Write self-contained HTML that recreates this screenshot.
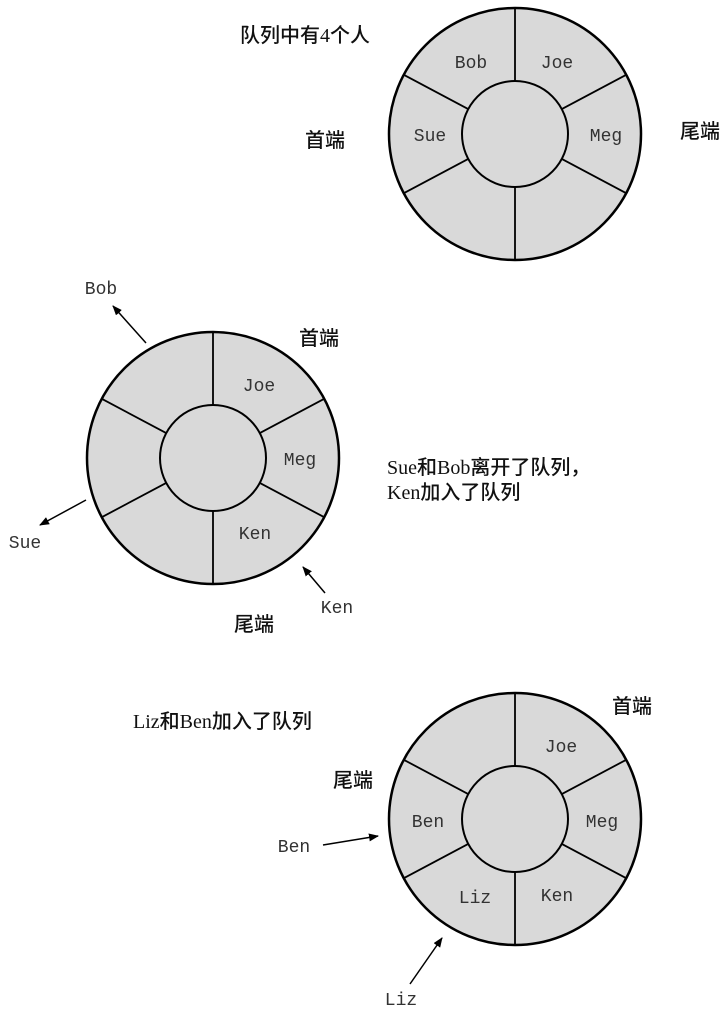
<!DOCTYPE html>
<html><head><meta charset="utf-8"><style>
html,body{margin:0;padding:0;background:#fff;}
svg{display:block}
.cn{font-family:"Liberation Serif","Noto Sans CJK SC",serif;font-size:20px;fill:#111;font-weight:500}
.m{font-family:"Liberation Mono",monospace;font-size:18px;fill:#333;text-anchor:middle}
</style></head><body>
<svg width="728" height="1014" viewBox="0 0 728 1014" xmlns="http://www.w3.org/2000/svg">
<defs>
<marker id="a" markerWidth="10" markerHeight="8" refX="9" refY="4" orient="auto" markerUnits="userSpaceOnUse">
<path d="M0,0 L10,4 L0,8 Z" fill="#000"/></marker>
<g id="ring">
<circle r="126" fill="#d9d9d9" stroke="#000" stroke-width="2.5"/>
<g stroke="#000" stroke-width="1.8">
<line x1="0" y1="-53" x2="0" y2="-126"/>
<line x1="0" y1="53" x2="0" y2="126"/>
<line x1="46.8" y1="-24.9" x2="111.2" y2="-59.2"/>
<line x1="46.8" y1="24.9" x2="111.2" y2="59.2"/>
<line x1="-46.8" y1="-24.9" x2="-111.2" y2="-59.2"/>
<line x1="-46.8" y1="24.9" x2="-111.2" y2="59.2"/>
</g>
<circle r="53" fill="#d9d9d9" stroke="#000" stroke-width="2"/>
</g>
</defs>

<!-- ring 1 -->
<use href="#ring" x="515" y="134"/>
<text class="m" x="471" y="68">Bob</text>
<text class="m" x="557" y="68">Joe</text>
<text class="m" x="606" y="141">Meg</text>
<text class="m" x="430" y="141">Sue</text>
<text class="cn" x="240" y="42">队列中有4个人</text>
<text class="cn" x="305" y="147">首端</text>
<text class="cn" x="680" y="138">尾端</text>

<!-- ring 2 -->
<use href="#ring" x="213" y="458"/>
<text class="m" x="259" y="391">Joe</text>
<text class="m" x="300" y="465">Meg</text>
<text class="m" x="255" y="539">Ken</text>
<text class="cn" x="299" y="345">首端</text>
<text class="cn" x="234" y="631">尾端</text>
<text class="cn" x="387" y="474">Sue和Bob离开了队列，</text>
<text class="cn" x="387" y="499">Ken加入了队列</text>
<line x1="146" y1="343" x2="113" y2="306" stroke="#000" stroke-width="1.5" marker-end="url(#a)"/>
<text class="m" x="101" y="294">Bob</text>
<line x1="86" y1="500" x2="40" y2="525" stroke="#000" stroke-width="1.5" marker-end="url(#a)"/>
<text class="m" x="25" y="548">Sue</text>
<line x1="325" y1="593" x2="303" y2="567" stroke="#000" stroke-width="1.5" marker-end="url(#a)"/>
<text class="m" x="337" y="613">Ken</text>

<!-- ring 3 -->
<use href="#ring" x="515" y="819"/>
<text class="m" x="561" y="752">Joe</text>
<text class="m" x="602" y="827">Meg</text>
<text class="m" x="557" y="901">Ken</text>
<text class="m" x="475" y="903">Liz</text>
<text class="m" x="428" y="827">Ben</text>
<text class="cn" x="612" y="713">首端</text>
<text class="cn" x="333" y="787">尾端</text>
<text class="cn" x="133" y="728">Liz和Ben加入了队列</text>
<line x1="323" y1="845" x2="378" y2="836" stroke="#000" stroke-width="1.5" marker-end="url(#a)"/>
<text class="m" x="294" y="852">Ben</text>
<line x1="410" y1="984" x2="442" y2="938" stroke="#000" stroke-width="1.5" marker-end="url(#a)"/>
<text class="m" x="401" y="1005">Liz</text>
</svg>
</body></html>
